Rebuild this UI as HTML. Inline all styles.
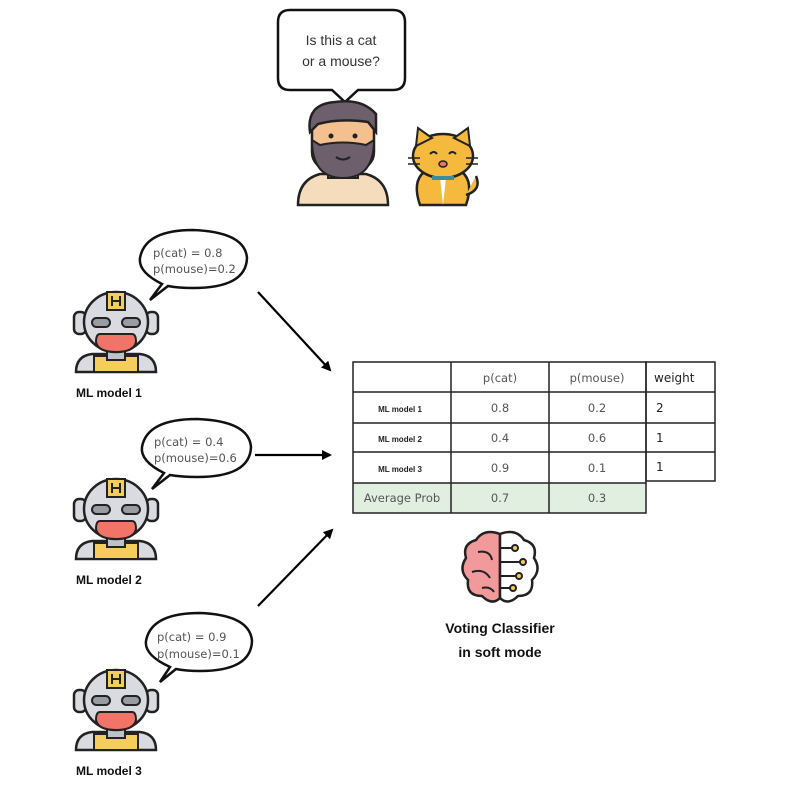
<!DOCTYPE html>
<html><head><style>
html,body{margin:0;padding:0;background:#fff;}
svg{display:block;}
</style></head><body>
<svg width="792" height="799" viewBox="0 0 792 799" xmlns="http://www.w3.org/2000/svg">
<defs>
<marker id="ah" markerWidth="10" markerHeight="10" refX="8" refY="5" orient="auto" markerUnits="userSpaceOnUse">
<path d="M0,0 L10,5 L0,10 z" fill="#000"/>
</marker>
<g id="robot">
  <!-- ears -->
  <rect x="-42" y="-10" width="12" height="22" rx="5" fill="#d9dbe0" stroke="#222" stroke-width="2.5"/>
  <rect x="30" y="-10" width="12" height="22" rx="5" fill="#d9dbe0" stroke="#222" stroke-width="2.5"/>
  <!-- body -->
  <path d="M-40,50 Q-40,34 -24,32 L24,32 Q40,34 40,50 Z" fill="#d9dbe0" stroke="#222" stroke-width="2.5"/>
  <rect x="-22" y="34" width="44" height="16" fill="#f4cd5d" stroke="#222" stroke-width="2"/>
  <rect x="-9" y="24" width="18" height="14" fill="#bfc2c8" stroke="#222" stroke-width="2"/>
  <!-- head -->
  <ellipse cx="0" cy="0" rx="32" ry="30" fill="#d9dbe0" stroke="#222" stroke-width="2.5"/>
  <rect x="-9" y="-30" width="18" height="18" fill="#f4cd5d" stroke="#222" stroke-width="2"/>
  <path d="M-4,-26 V-16 M4,-26 V-16 M-4,-21 H4" stroke="#222" stroke-width="2"/>
  <rect x="-24" y="-4" width="18" height="9" rx="4.5" fill="#9a9ca3" stroke="#222" stroke-width="2"/>
  <rect x="6" y="-4" width="18" height="9" rx="4.5" fill="#9a9ca3" stroke="#222" stroke-width="2"/>
  <path d="M-16,12 H16 Q20,12 20,20 Q18,30 0,30 Q-18,30 -20,20 Q-20,12 -16,12 Z" fill="#f07467" stroke="#222" stroke-width="2"/>
</g>
</defs>

<!-- person bubble -->
<path d="M290,10 H393 Q405,10 405,22 V78 Q405,90 393,90 H358 L345,102 L332,90 H290 Q278,90 278,78 V22 Q278,10 290,10 Z" fill="#fff" stroke="#111" stroke-width="2.5"/>
<text x="341" y="45" font-family="Liberation Sans, sans-serif" font-size="14" text-anchor="middle" fill="#333">Is this a cat</text>
<text x="341" y="66" font-family="Liberation Sans, sans-serif" font-size="14" text-anchor="middle" fill="#333">or a mouse?</text>

<!-- person -->
<path d="M298,205 Q298,180 320,174 L366,174 Q388,180 388,205 Z" fill="#f5dcbc" stroke="#222" stroke-width="2.5"/>
<rect x="328" y="160" width="30" height="18" fill="#f5dcbc" stroke="#222" stroke-width="2"/>
<rect x="312" y="112" width="62" height="58" rx="18" fill="#f5c08f" stroke="#222" stroke-width="2.5"/>
<path d="M312,140 Q312,178 343,178 Q374,178 374,140 L366,145 Q343,140 320,145 Z" fill="#6d5f6c" stroke="#222" stroke-width="2"/>
<path d="M310,132 Q306,104 335,102 Q362,98 376,114 L376,132 L368,122 Q340,118 318,124 Z" fill="#6d5f6c" stroke="#222" stroke-width="2.5"/>
<circle cx="331" cy="136" r="2.5" fill="#222"/><circle cx="355" cy="136" r="2.5" fill="#222"/>
<path d="M336,157 Q343,162 350,157" stroke="#222" stroke-width="2" fill="none"/>

<!-- cat -->
<path d="M420,205 Q412,182 424,172 L462,172 Q474,182 466,205 Z" fill="#f5b93d" stroke="#222" stroke-width="2.5"/>
<path d="M440,178 L443,205 L446,178 Z" fill="#fff"/>
<path d="M466,195 Q482,190 476,176" stroke="#222" stroke-width="2.5" fill="#f5b93d"/>
<ellipse cx="443" cy="156" rx="30" ry="22" fill="#f5b93d" stroke="#222" stroke-width="2.5"/>
<path d="M416,146 L418,128 L432,138 Z" fill="#f5b93d" stroke="#222" stroke-width="2"/>
<path d="M470,146 L468,128 L454,138 Z" fill="#f5b93d" stroke="#222" stroke-width="2"/>
<path d="M430,154 Q434,150 437,154 M449,154 Q452,150 456,154" stroke="#222" stroke-width="2" fill="none"/>
<ellipse cx="443" cy="164" rx="4" ry="3" fill="#e8736e" stroke="#222" stroke-width="1.5"/>
<path d="M408,158 H420 M408,164 H420 M466,158 H478 M466,164 H478" stroke="#222" stroke-width="1.5"/>
<rect x="432" y="176" width="22" height="4" fill="#3a8d9a"/>

<!-- model bubbles -->
<g font-family="DejaVu Sans, sans-serif" font-size="11.5" fill="#555">
<path d="M150,300 L162,284 Q138,272 140,258 Q145,230 193,230 Q245,232 247,258 Q246,288 193,288 Q178,288 168,286 Z" fill="#fff" stroke="#111" stroke-width="2.5"/>
<text x="153" y="257">p(cat) = 0.8</text>
<text x="153" y="273">p(mouse)=0.2</text>

<path d="M152,489 L164,473 Q140,461 142,447 Q147,419 197,419 Q249,421 251,447 Q250,477 197,477 Q182,477 170,475 Z" fill="#fff" stroke="#111" stroke-width="2.5"/>
<text x="154" y="446">p(cat) = 0.4</text>
<text x="154" y="462">p(mouse)=0.6</text>

<path d="M160,682 L170,667 Q144,655 146,641 Q151,613 200,613 Q250,615 252,641 Q251,671 200,671 Q186,671 176,669 Z" fill="#fff" stroke="#111" stroke-width="2.5"/>
<text x="157" y="641">p(cat) = 0.9</text>
<text x="157" y="658">p(mouse)=0.1</text>
</g>

<!-- robots -->
<use href="#robot" transform="translate(116,322)"/>
<use href="#robot" transform="translate(116,509)"/>
<use href="#robot" transform="translate(116,700)"/>
<g font-family="Liberation Sans, sans-serif" font-size="12" font-weight="bold" fill="#111">
<text x="76" y="397">ML model 1</text>
<text x="76" y="584">ML model 2</text>
<text x="76" y="775">ML model 3</text>
</g>

<!-- arrows -->
<g stroke="#000" stroke-width="2.2" marker-end="url(#ah)">
<line x1="258" y1="292" x2="330" y2="370"/>
<line x1="255" y1="455" x2="330" y2="455"/>
<line x1="258" y1="606" x2="332" y2="530"/>
</g>

<!-- table -->
<rect x="353" y="483" width="293" height="30" fill="#e1efe1"/>
<g stroke="#222" stroke-width="1.5" fill="none">
<rect x="353" y="362" width="293" height="151"/>
<line x1="451" y1="362" x2="451" y2="513"/>
<line x1="549" y1="362" x2="549" y2="513"/>
<line x1="353" y1="392" x2="646" y2="392"/>
<line x1="353" y1="423" x2="646" y2="423"/>
<line x1="353" y1="452" x2="646" y2="452"/>
<line x1="353" y1="483" x2="646" y2="483"/>
<rect x="646" y="362" width="69" height="119"/>
<line x1="646" y1="392" x2="715" y2="392"/>
<line x1="646" y1="423" x2="715" y2="423"/>
<line x1="646" y1="452" x2="715" y2="452"/>
</g>
<g font-family="DejaVu Sans, sans-serif" font-size="11.5" fill="#555" text-anchor="middle">
<text x="500" y="382">p(cat)</text>
<text x="597" y="382">p(mouse)</text>
<text x="500" y="412">0.8</text><text x="597" y="412">0.2</text>
<text x="500" y="442">0.4</text><text x="597" y="442">0.6</text>
<text x="500" y="472">0.9</text><text x="597" y="472">0.1</text>
<text x="500" y="502">0.7</text><text x="597" y="502">0.3</text>
<text x="402" y="502">Average Prob</text>
</g>
<g font-family="DejaVu Sans, sans-serif" font-size="12" fill="#222">
<text x="654" y="382">weight</text>
<text x="656" y="412">2</text>
<text x="656" y="442">1</text>
<text x="656" y="471">1</text>
</g>
<g font-family="Liberation Sans, sans-serif" font-size="8" font-weight="bold" fill="#222" text-anchor="middle">
<text x="400" y="412">ML model 1</text>
<text x="400" y="442">ML model 2</text>
<text x="400" y="472">ML model 3</text>
</g>

<!-- brain -->
<path d="M500,534 Q484,528 476,540 Q462,544 466,558 Q458,570 468,580 Q466,596 482,596 Q492,606 500,598 Z" fill="#f1999b" stroke="#222" stroke-width="2.5"/>
<path d="M500,534 Q516,528 524,540 Q538,544 534,558 Q542,570 532,580 Q534,596 518,596 Q508,606 500,598 Z" fill="#fff" stroke="#222" stroke-width="2.5"/>
<path d="M478,552 Q490,550 492,560 M472,572 Q484,568 490,578 M482,588 Q490,586 494,592" stroke="#222" stroke-width="2" fill="none"/>
<g stroke="#222" stroke-width="2" fill="#f4cd5d">
<path d="M500,548 H512" fill="none"/><circle cx="515" cy="548" r="3"/>
<path d="M500,562 H520" fill="none"/><circle cx="523" cy="562" r="3"/>
<path d="M500,576 H516" fill="none"/><circle cx="519" cy="576" r="3"/>
<path d="M500,588 H510" fill="none"/><circle cx="513" cy="588" r="3"/>
</g>
<g font-family="Liberation Sans, sans-serif" font-size="14" font-weight="bold" fill="#111" text-anchor="middle">
<text x="500" y="633">Voting Classifier</text>
<text x="500" y="657">in soft mode</text>
</g>
</svg>
</body></html>
